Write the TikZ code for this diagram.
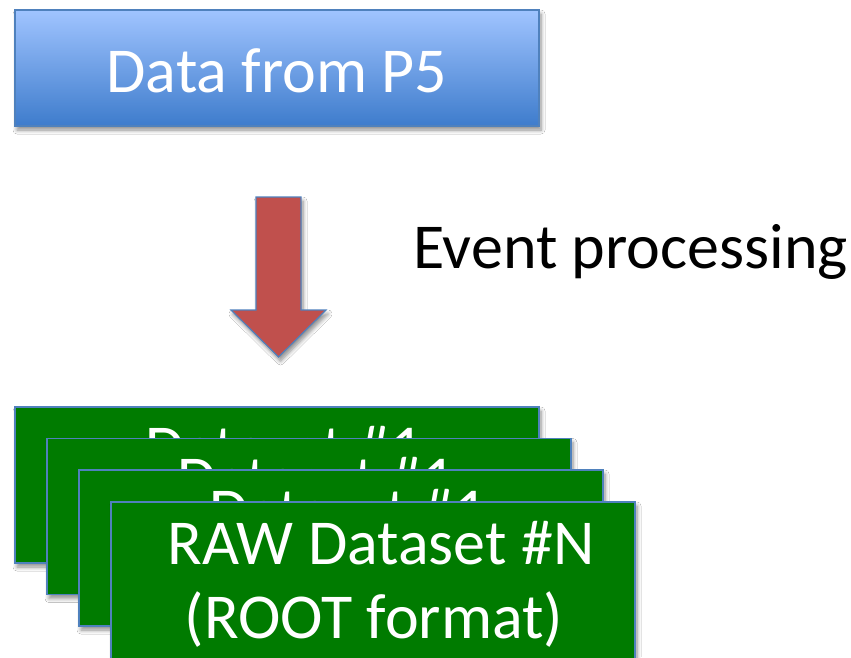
\documentclass[tikz,border=0pt]{standalone}
\usepackage{fontspec}
\setmainfont{Carlito}
\usetikzlibrary{shadows,shadows.blur}
\definecolor{boxblueT}{RGB}{160,196,255}
\definecolor{boxblueB}{RGB}{62,124,204}
\definecolor{edgeblue}{RGB}{79,129,189}
\definecolor{dsgreen}{RGB}{0,123,0}
\definecolor{arrowred}{RGB}{192,80,77}
\tikzset{
  softshadow/.style={blur shadow={shadow xshift=2pt, shadow yshift=-4pt, shadow blur steps=6, shadow blur radius=4pt, shadow opacity=45}},
  sourcebox/.style={draw=edgeblue, line width=1.2pt, top color=boxblueT, bottom color=boxblueB, softshadow},
  datasetbox/.style={draw=edgeblue, line width=1.2pt, fill=dsgreen, softshadow},
  bigtext/.style={font=\fontsize{64}{74}\selectfont, inner sep=0pt, anchor=base},
  whitetext/.style={bigtext, text=white},
  flowarrow/.style={draw=edgeblue, line width=1.2pt, fill=arrowred, softshadow, line join=miter}
}
\begin{document}
\begin{tikzpicture}[x=1pt,y=-1pt]
\useasboundingbox (0,0) rectangle (851,657);
\fill[white] (0,0) rectangle (851,657);

% source box
\path[sourcebox] (15,10) rectangle (539,126);
\node[whitetext] (src) at (277,92) {Data from P5};

% processing arrow
\coordinate (shaftTL) at (256,197);
\coordinate (tip) at (278.5,357);
\path[flowarrow] (shaftTL) -- (301,197) -- (301,310) -- (326,310) -- (tip)
  -- (231,310) -- (256,310) -- cycle;
\node[bigtext, anchor=base west] (evt) at (413,268) {Event processing};

% stacked datasets, each one partly hidden by the next
\foreach \k in {0,1,2} {
  \path[datasetbox] (15+32*\k,407+31.5*\k) rectangle (539+32*\k,563+31.5*\k);
  \node[whitetext] (ds\k) at (284+32*\k,469+31.5*\k) {Dataset \#1};
}
\path[datasetbox] (111,502) rectangle (635,660);
\node[whitetext] (rawA) at (381,564) {RAW Dataset \#N};
\node[whitetext] (rawB) at (374,638) {(ROOT format)};
\end{tikzpicture}
\end{document}
